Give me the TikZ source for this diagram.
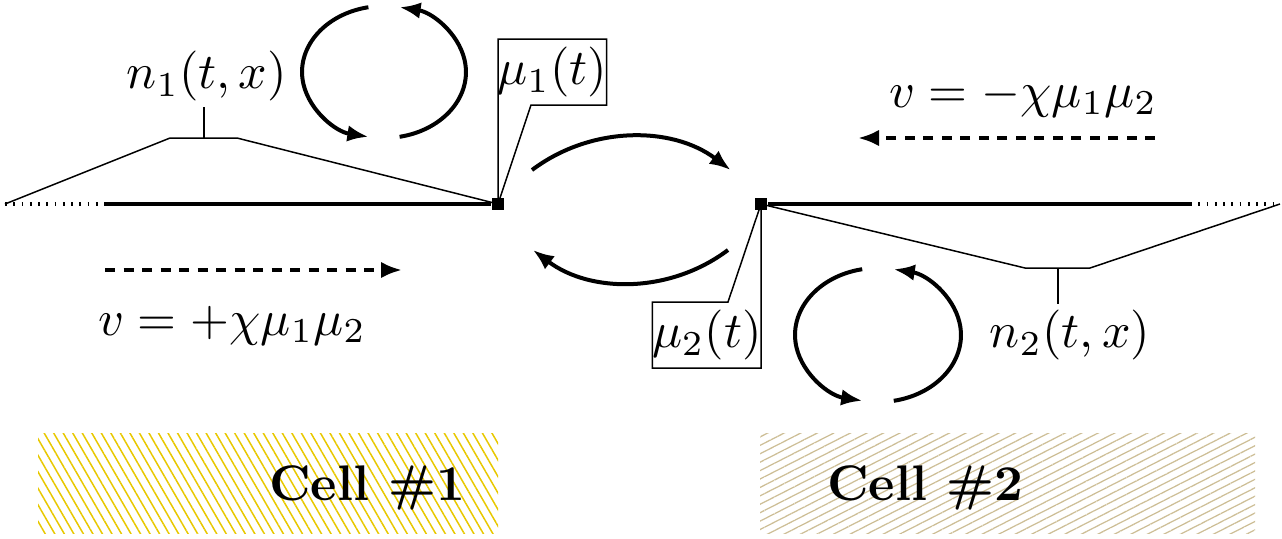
\documentclass[tikz,border=0pt]{standalone}
\usetikzlibrary{arrows.meta,patterns.meta,calc}
\definecolor{cellone}{RGB}{232,200,0}
\definecolor{celltwo}{RGB}{205,190,150}

\begin{document}
\begin{tikzpicture}
  [x=0.2pt, y=0.2pt,
   site node/.style={rectangle,fill=black,inner sep=0pt,minimum size=2.5pt},
   label box/.style={inner xsep=-0.3pt,inner ysep=1.4pt},
   dens node/.style={inner sep=1pt},
   thin line/.style={line width=0.3pt},
   flux line/.style={line width=0.8pt},
   far line/.style={line width=0.8pt,dash pattern=on 0.35pt off 1.3pt},
   flow arrow/.style={line width=0.8pt,-{Latex[length=4.2pt,width=3.3pt]}},
   drift arrow/.style={flow arrow,dash pattern=on 2pt off 1.7pt}]
  \useasboundingbox (0,0) rectangle (1282,538);

  % cells
  \fill[pattern={Lines[angle=-60,distance=1.65pt,line width=0.3pt]},pattern color=cellone] (38,5) rectangle (498,105);
  \fill[pattern={Lines[angle=27,distance=1.5pt,line width=0.25pt]},pattern color=celltwo] (760,5) rectangle (1255,105);
  \node[anchor=base] (cell1) at (367,38) {\textbf{Cell \#1}};
  \node[anchor=base] (cell2) at (925,38) {\textbf{Cell \#2}};

  % the two half lines
  \node[site node] (s1) at (498,334) {};
  \node[site node] (s2) at (761,334) {};
  \coordinate (l0) at (5,334);
  \coordinate (l1) at (105,334);
  \coordinate (r1) at (1190,334);
  \coordinate (r0) at (1280,334);
  \draw[far line] (l0) -- (l1);
  \draw[flux line] (l1) -- (s1);
  \draw[flux line] (s2) -- (r1);
  \draw[far line] (r1) -- (r0);

  % densities
  \node[dens node] (n1) at (207,462) {$n_1(t,x)$};
  \node[dens node] (n2) at (1070,203) {$n_2(t,x)$};
  \coordinate (k1) at (204,400);
  \coordinate (k2) at (1058,270);
  \draw[thin line] (l0) -- (170,400) -- (237,400) -- (s1.center);
  \draw[thin line] (k1) -- (k1 |- n1.south);
  \draw[thin line] (s2.center) -- (1025,270) -- (1090,270) -- (r0);
  \draw[thin line] (k2) -- (k2 |- n2.north);

  % boundary values
  \node[label box,anchor=south west] (m1) at (498,433) {$\mu_1(t)$};
  \node[label box,anchor=north east] (m2) at (761,236) {$\mu_2(t)$};
  \draw[thin line] (s1.center) -- (m1.north west) -- (m1.north east) -- (m1.south east)
    -- ([xshift=6.6pt]m1.south west) -- (s1.center);
  \draw[thin line] (s2.center) -- (m2.south east) -- (m2.south west) -- (m2.north west)
    -- ([xshift=-6.6pt]m2.north east) -- (s2.center);
  \node[site node] at (s1) {};
  \node[site node] at (s2) {};

  % exchange between the cells
  \draw[flow arrow] (532,368) arc[start angle=127, end angle=53, radius=165];
  \draw[flow arrow] (728,288) arc[start angle=-53, end angle=-127, radius=162];

  % loops
  \draw[flow arrow] (368.4,530.8) arc[start angle=101, end angle=259, x radius=82, y radius=66];
  \draw[flow arrow] (399.6,401.2) arc[start angle=-79, end angle=79, x radius=82, y radius=66];
  \draw[flow arrow] (862.2,268.8) arc[start angle=101, end angle=259, x radius=83, y radius=67];
  \draw[flow arrow] (893.8,137.2) arc[start angle=-79, end angle=79, x radius=83, y radius=67];

  % drift
  \coordinate (d1) at (105,268);
  \coordinate (d2) at (402,268);
  \coordinate (e1) at (1155,400);
  \coordinate (e2) at (858,400);
  \draw[drift arrow] (d1) -- (d2);
  \draw[drift arrow] (e1) -- (e2);
  \node[anchor=base] (v1) at (232,203) {$v=+\chi\mu_1\mu_2$};
  \node[anchor=base] (v2) at (1023,431) {$v=-\chi\mu_1\mu_2$};
\end{tikzpicture}
\end{document}
